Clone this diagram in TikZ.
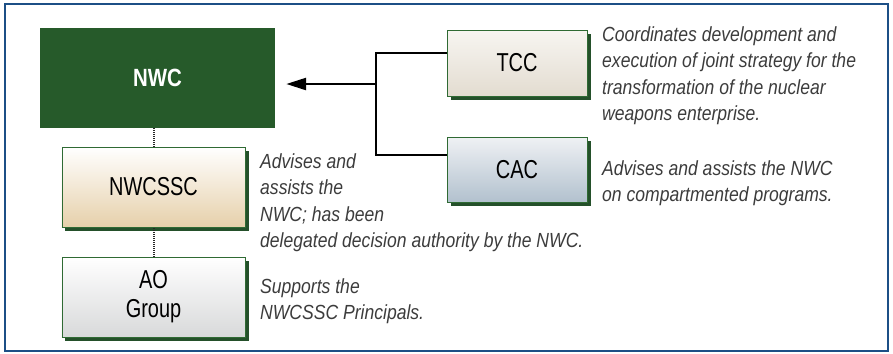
\documentclass[tikz,border=0pt]{standalone}
\usepackage{fontspec}
\setmainfont{Liberation Sans}[FakeStretch=0.82]
\newfontfamily\labelfont{Liberation Sans}[FakeStretch=0.77]
\newfontfamily\descfont{Liberation Sans}[FakeStretch=0.86]
\usetikzlibrary{arrows.meta,shadows}
\definecolor{frameblue}{HTML}{1C4F86}
\definecolor{nwcgreen}{HTML}{265A2A}
\definecolor{edgegreen}{HTML}{2F6A33}
\definecolor{shadowgreen}{HTML}{24502A}
\definecolor{desc}{HTML}{3C3C3C}
\definecolor{tanbot}{HTML}{E6D0AA}
\definecolor{graybot}{HTML}{D8D9DA}
\definecolor{tcctop}{HTML}{F7F5F1}
\definecolor{tccbot}{HTML}{E3DCD0}
\definecolor{cactop}{HTML}{EFF1F4}
\definecolor{cacbot}{HTML}{B2C1CE}
\begin{document}
\begin{tikzpicture}[x=1bp,y=-1bp,
  box/.style={draw=edgegreen, line width=0.8bp, inner sep=0pt, align=center,
    font=\labelfont\fontsize{26}{29}\selectfont,
    drop shadow={shadow xshift=3.5bp, shadow yshift=-3.5bp, fill=shadowgreen, opacity=1}},
  descr/.style={anchor=base west, inner sep=0pt, align=left, text=desc,
    font=\descfont\itshape\fontsize{20.5}{26.5}\selectfont},
  conn/.style={line width=2.5bp, black},
  dots/.style={line width=2bp, black!85, dash pattern=on 1bp off 1bp}]
\useasboundingbox (0,0) rectangle (893,353);
\draw[frameblue, line width=2bp] (5,4) rectangle (888,351);

\node[inner sep=0pt, fill=nwcgreen, minimum width=235bp, minimum height=100bp,
  text=white, font=\bfseries\fontsize{25}{27}\selectfont] (nwc) at (157.5,78) {NWC};
\node[box, minimum width=183bp, minimum height=80bp, shading=axis,
  top color=white, bottom color=tanbot] (nwcssc) at (153.5,187) {NWCSSC};
\node[box, minimum width=183bp, minimum height=80bp, shading=axis,
  top color=white, bottom color=graybot] (ao) at (153.5,297) {AO\\Group};
\node[box, minimum width=140bp, minimum height=66bp, shading=axis,
  top color=tcctop, bottom color=tccbot] (tcc) at (517,63) {TCC};
\node[box, minimum width=140bp, minimum height=65bp, shading=axis,
  top color=cactop, bottom color=cacbot] (cac) at (517,169.5) {CAC};

\coordinate (j) at (376,84);
\coordinate (jt) at (376,53);
\coordinate (jc) at (376,155);
\draw[conn] (tcc.west |- jt) -- (jt) -- (jc) -- (cac.west |- jc);
\draw[conn, -{Triangle[length=20bp,width=12bp]}, shorten >=11bp] (j) -- (nwc.east |- j);

\draw[dots] (nwcssc.north) -- (nwcssc.north |- nwc.south);
\draw[dots] (ao.north) -- (nwcssc.south -| ao.north);

\node[descr] (tccd) at (602,120.5) {Coordinates development and\\execution of joint strategy for the\\transformation of the nuclear\\weapons enterprise.};
\node[descr] (cacd) at (602,201.5) {Advises and assists the NWC\\on compartmented programs.};
\node[descr] (nwcssccd) at (260,247.5) {Advises and\\assists the\\NWC; has been\\delegated decision authority by the NWC.};
\node[descr] (aod) at (260,319.5) {Supports the\\NWCSSC Principals.};
\end{tikzpicture}
\end{document}
